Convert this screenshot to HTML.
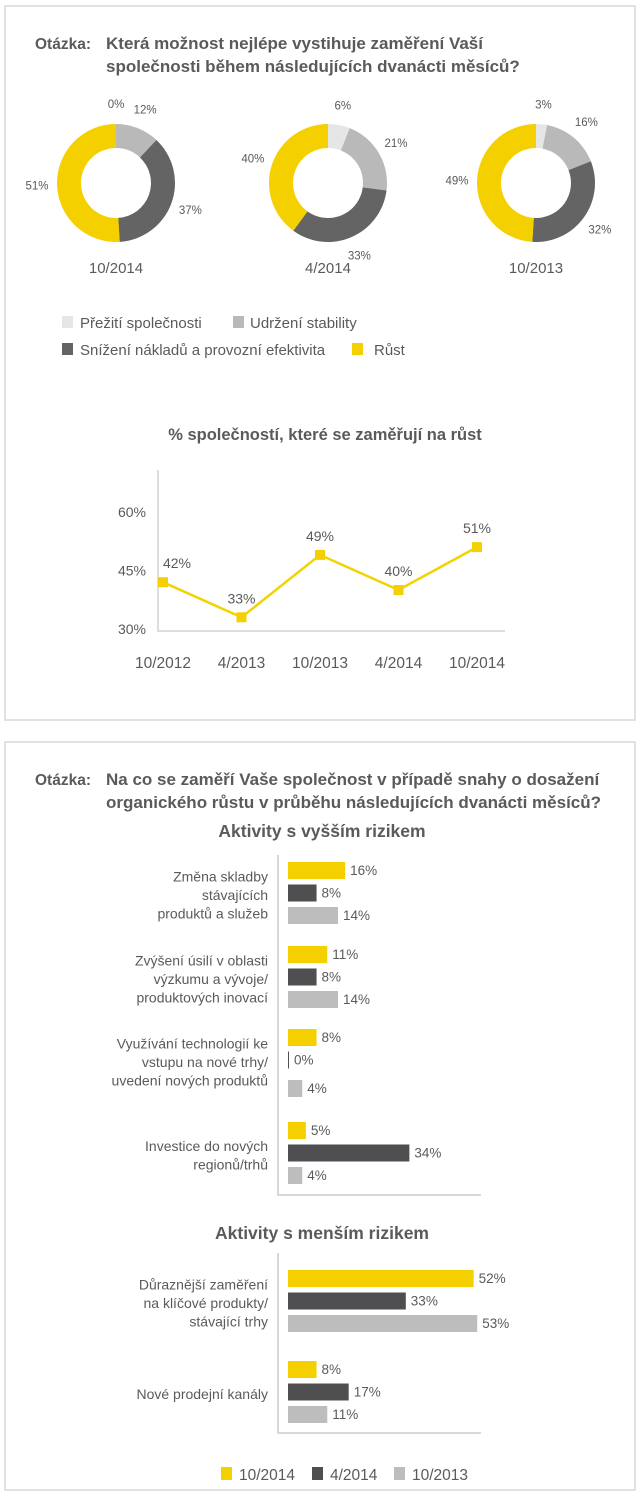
<!DOCTYPE html>
<html><head><meta charset="utf-8"><style>
body{margin:0;background:#fff;}
svg{display:block;font-family:"Liberation Sans",sans-serif;}
text{fill:#5a5a5a;}
</style></head><body>
<svg id="s" width="640" height="1496" viewBox="0 0 640 1496">
<rect x="5" y="6" width="630" height="714" fill="none" stroke="#e2e2e2" stroke-width="2"/>
<rect x="5" y="742" width="630" height="748" fill="none" stroke="#e2e2e2" stroke-width="2"/>
<g font-size="17" font-weight="bold">
<text x="35" y="49" font-size="15.5">Otázka:</text>
<text x="106" y="49">Která možnost nejlépe vystihuje zaměření Vaší</text>
<text x="106" y="72">společnosti během následujících dvanácti měsíců?</text>
</g>
<g id="donuts"></g>
<g font-size="15">
<rect x="62" y="316" width="11" height="12" fill="#e6e6e6"/>
<text x="80" y="328">Přežití společnosti</text>
<rect x="233" y="316" width="11" height="12" fill="#b9b9b9"/>
<text x="250" y="328">Udržení stability</text>
<rect x="62" y="343" width="11" height="12" fill="#646464"/>
<text x="80" y="355">Snížení nákladů a provozní efektivita</text>
<rect x="352" y="343" width="11" height="12" fill="#f5d000"/>
<text x="374" y="355">Růst</text>
</g>
<text x="325" y="440" text-anchor="middle" font-size="16.5" font-weight="bold">% společností, které se zaměřují na růst</text>
<g id="line"></g>
<g font-size="17" font-weight="bold">
<text x="35" y="785" font-size="15.5">Otázka:</text>
<text x="106" y="785">Na co se zaměří Vaše společnost v případě snahy o dosažení</text>
<text x="106" y="808">organického růstu v průběhu následujících dvanácti měsíců?</text>
</g>
<text x="322" y="837" text-anchor="middle" font-size="17.5" font-weight="bold">Aktivity s vyšším rizikem</text>
<text x="322" y="1239" text-anchor="middle" font-size="17.5" font-weight="bold">Aktivity s menším rizikem</text>
<g id="bars"></g>
<g font-size="15.5">
<rect x="221" y="1467" width="11" height="13" fill="#f5d000"/>
<text x="239" y="1480">10/2014</text>
<rect x="312" y="1467" width="11" height="13" fill="#4f4f52"/>
<text x="330" y="1480">4/2014</text>
<rect x="394" y="1467" width="11" height="13" fill="#bdbdbd"/>
<text x="412" y="1480">10/2013</text>
</g>
</svg>
<script>
// Donut data: survival, stability, cost, growth
const donutPeriods = ["10/2014", "4/2014", "10/2013"];
const survivalVals = [0, 6, 3];
const stabilityVals = [12, 21, 16];
const costVals = [37, 33, 32];
const growthVals = [51, 40, 49];
// Line data
const lineCats = ["10/2012", "4/2013", "10/2013", "4/2014", "10/2014"];
const lineVals = [42, 33, 49, 40, 51];
const lineTicks = [30, 45, 60];
// Bar data
const barCats = [
 ["Změna skladby", "stávajících", "produktů a služeb"],
 ["Zvýšení úsilí v oblasti", "výzkumu a vývoje/", "produktových inovací"],
 ["Využívání technologií ke", "vstupu na nové trhy/", "uvedení nových produktů"],
 ["Investice do nových", "regionů/trhů"],
 ["Důraznější zaměření", "na klíčové produkty/", "stávající trhy"],
 ["Nové prodejní kanály"]
];
const bar2014Oct = [16, 11, 8, 5, 52, 8];
const bar2014Apr = [8, 8, 0, 34, 33, 17];
const bar2013Oct = [14, 14, 4, 4, 53, 11];

const NS = "http://www.w3.org/2000/svg";
function mk(tag, attrs, parent) {
  const e = document.createElementNS(NS, tag);
  for (const k in attrs) e.setAttribute(k, attrs[k]);
  parent.appendChild(e);
  return e;
}
function txt(str, attrs, parent) { const t = mk("text", attrs, parent); t.textContent = str; return t; }

// Donuts
const dg = document.getElementById("donuts");
const dCx = [116, 328, 536], dCy = 183, R = 59, r = 35;
const dColors = ["#e6e6e6", "#b9b9b9", "#646464", "#f5d000"];
const segNames = ["survival", "stability", "cost", "growth"];
function pt(cx, cy, rad, a) { return [cx + rad * Math.sin(a), cy - rad * Math.cos(a)]; }
donutPeriods.forEach((p, i) => {
  const vals = [survivalVals[i], stabilityVals[i], costVals[i], growthVals[i]];
  const tot = vals.reduce((a, b) => a + b, 0);
  let a0 = 0;
  vals.forEach((v, j) => {
    const a1 = a0 + v / tot * 2 * Math.PI;
    if (v > 0) {
      const large = (a1 - a0) > Math.PI ? 1 : 0;
      const [x0, y0] = pt(dCx[i], dCy, R, a0), [x1, y1] = pt(dCx[i], dCy, R, a1);
      const [x2, y2] = pt(dCx[i], dCy, r, a1), [x3, y3] = pt(dCx[i], dCy, r, a0);
      const path = mk("path", {d: `M${x0},${y0}A${R},${R} 0 ${large} 1 ${x1},${y1}L${x2},${y2}A${r},${r} 0 ${large} 0 ${x3},${y3}Z`, fill: dColors[j]}, dg);
      
      
    }
    const mid = (a0 + a1) / 2;
    const [lx, ly] = pt(dCx[i], dCy, R + 20, mid);
    const lab = txt(v + "%", {x: lx, y: ly + 4, "text-anchor": "middle", "font-size": "11.5"}, dg);
    
    
    a0 = a1;
  });
  const pl = txt(p, {x: dCx[i], y: 273, "text-anchor": "middle", "font-size": "15"}, dg);
  
  
});

// Line chart
const lg = document.getElementById("line");
const lx0 = 163, lstep = 78.5;
function lxf(i) { return lx0 + i * lstep; }
function lyf(v) { return 629 - (v - 30) * 3.9; }
const ax = mk("path", {d: "M158,470V631H505", fill: "none", stroke: "#ddd", "stroke-width": "2"}, lg);


lineTicks.forEach(t => {
  const e = txt(t + "%", {x: 146, y: lyf(t) + 5, "text-anchor": "end", "font-size": "14"}, lg);
  
  
});
const poly = mk("polyline", {points: lineVals.map((v, i) => lxf(i) + "," + lyf(v)).join(" "), fill: "none", stroke: "#f0d400", "stroke-width": "2.5"}, lg);


lineVals.forEach((v, i) => {
  const m = mk("rect", {x: lxf(i) - 5, y: lyf(v) - 5, width: 10, height: 10, fill: "#f5d000"}, lg);
  
  
  const t = txt(v + "%", {x: lxf(i) + (i === 0 ? 14 : 0), y: lyf(v) - 14, "text-anchor": "middle", "font-size": "14"}, lg);
  
  
  const c = txt(lineCats[i], {x: lxf(i), y: 668, "text-anchor": "middle", "font-size": "15.5"}, lg);
  
  
});

// Bars
const bg = document.getElementById("bars");
const bx0 = 288, bscale = 3.57, bh = 17;
function bw(v) { return v * bscale; }
const groupTop = [862, 946, 1029, 1122, 1270, 1361];
const barColors = ["#f5d000", "#4f4f52", "#bdbdbd"];
const serNames = ["bar-2014-10", "bar-2014-4", "bar-2013-10"];
["M278,855V1195H481", "M278,1253V1433H481"].forEach(d => {
  const a = mk("path", {d: d, fill: "none", stroke: "#ccc", "stroke-width": "1.5"}, bg);
  
  
});
barCats.forEach((lines, g) => {
  const series = [bar2014Oct[g], bar2014Apr[g], bar2013Oct[g]];
  series.forEach((v, s) => {
    const y = groupTop[g] + s * 22.5 + (g === 2 && s === 2 ? 6 : 0);
    const w = Math.max(bw(v), 1);
    const rc = mk("rect", {x: bx0, y: y, width: w, height: bh, fill: barColors[s]}, bg);
    
    
    const t = txt(v + "%", {x: bx0 + w + 5, y: y + 13, "font-size": "13.5"}, bg);
    
    
  });
  const cy = groupTop[g] + 33;
  const n = lines.length;
  lines.forEach((ln, k) => {
    const t = txt(ln, {x: 268, y: cy + (k - (n - 1) / 2) * 18.5 + 5, "text-anchor": "end", "font-size": "14"}, bg);
    
    
  });
});
</script>
</body></html>
